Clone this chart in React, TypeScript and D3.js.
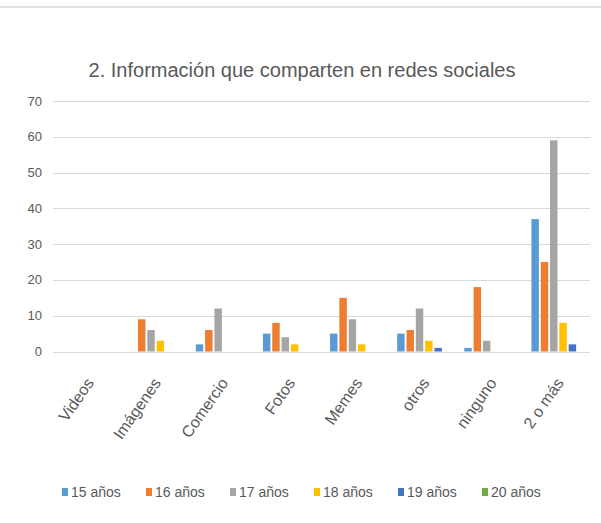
import React from "react";
import * as d3 from "d3";

const categories = ["Videos", "Imágenes", "Comercio", "Fotos", "Memes", "otros", "ninguno", "2 o más"];
const seriesNames = ["15 años", "16 años", "17 años", "18 años", "19 años", "20 años"];
const seriesColors = ["#5B9BD5", "#ED7D31", "#A5A5A5", "#FFC000", "#4472C4", "#70AD47"];
const s15 = [0, 0, 2, 5, 5, 5, 1, 37];
const s16 = [0, 9, 6, 8, 15, 6, 18, 25];
const s17 = [0, 6, 12, 4, 9, 12, 3, 59];
const s18 = [0, 3, 0, 2, 2, 3, 0, 8];
const s19 = [0, 0, 0, 0, 0, 1, 0, 2];
const s20 = [0, 0, 0, 0, 0, 0, 0, 0];
const seriesValues = [s15, s16, s17, s18, s19, s20];
const yTicks = [0, 10, 20, 30, 40, 50, 60, 70];
const title = "2. Información que comparten en redes sociales";

export default function App() {
  const W = 601, H = 523;
  const x = d3.scaleBand<string>().domain(categories).range([55, 592]).paddingInner(0).paddingOuter(0);
  const xs = d3.scaleBand<string>().domain(seriesNames).range([-27, 27]).paddingInner(0.2);
  const y = d3.scaleLinear().domain([0, 70]).range([351.5, 101]);
  const font = "'Liberation Sans', Arial, sans-serif";
  const textColor = "#595959";
  const legendX0 = 62;
  const legendStep = 84;

  return (
    <svg width={W} height={H} style={{ position: "absolute", left: 0, top: 0, background: "#fff" }} fontFamily={font}>
      <rect x={0} y={0} width={W} height={H} fill="#fff" />
      <line x1={0} x2={W} y1={7} y2={7} stroke="#E3E3E3" strokeWidth={2} />
      <text x={302} y={77} textAnchor="middle" fontSize={20} fill={textColor}>{title}</text>
      {yTicks.map((t) => (
        <g key={t}>
          <line x1={53} x2={590} y1={Math.round(y(t)) + 0.5} y2={Math.round(y(t)) + 0.5} stroke="#D9D9D9" strokeWidth={1} />
          <text x={42} y={y(t)} dy="0.35em" textAnchor="end" fontSize={13} fill={textColor}>{t}</text>
        </g>
      ))}
      {seriesNames.map((s, si) => (
        <g key={s} fill={seriesColors[si]}>
          {categories.map((c, ci) => {
            const v = seriesValues[si][ci];
            if (v <= 0) return null;
            const cx = (x(c) as number) + x.bandwidth() / 2;
            return (
              <rect key={c} x={cx + (xs(s) as number)} width={xs.bandwidth()} y={y(v)} height={y(0) - y(v)} />
            );
          })}
        </g>
      ))}
      {categories.map((c) => {
        const cx = (x(c) as number) + x.bandwidth() / 2;
        return (
          <text key={c} transform={`translate(${cx + 6},${383}) rotate(-55)`} textAnchor="end" fontSize={16} fill={textColor}>{c}</text>
        );
      })}
      {seriesNames.map((s, si) => (
        <g key={s} transform={`translate(${legendX0 + si * legendStep},${492})`}>
          <rect x={0} y={-4} width={6} height={8} fill={seriesColors[si]} />
          <text x={9} y={0} dy="0.35em" fontSize={14} fill={textColor}>{s}</text>
        </g>
      ))}
    </svg>
  );
}
